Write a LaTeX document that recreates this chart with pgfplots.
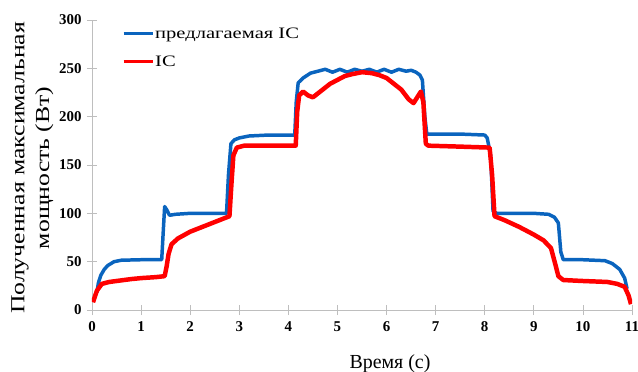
\documentclass[border=0pt]{standalone}
\usepackage{fontspec}
\setmainfont{Liberation Serif}
\newfontfamily\widefont[FakeStretch=1.29]{Liberation Serif}
\usepackage{pgfplots}
\pgfplotsset{compat=1.18}
\definecolor{pblue}{RGB}{10,100,190}
\definecolor{pred}{RGB}{255,0,0}
\definecolor{axgray}{RGB}{190,190,190}
\begin{document}
\begin{tikzpicture}
\begin{axis}[
  scale only axis, width=540bp, height=290bp,
  xmin=0, xmax=11, ymin=0, ymax=300,
  xtick={0,1,...,11}, ytick={0,50,...,300},
  axis x line*=bottom, axis y line*=left,
  axis line style={axgray, line width=0.8pt, -},
  tick style={axgray, line width=0.8pt},
  tick align=center, major tick length=10bp,
  /pgf/number format/assume math mode=true,
  xticklabel={\textbf{\pgfmathprintnumber{\tick}}},
  yticklabel={\textbf{\pgfmathprintnumber{\tick}}},
  ticklabel style={font=\fontsize{15}{15}\selectfont},
  xticklabel style={yshift=-3bp},
  yticklabel style={xshift=-2bp},
  xlabel={Время (с)},
  xlabel style={font=\fontsize{20}{20}\selectfont, yshift=-16bp, xshift=28bp},
  ylabel={Полученная максимальная\\мощность (Вт)},
  ylabel style={font=\widefont\fontsize{20}{25}\selectfont, align=center,
    at={(axis description cs:-0.071,0.49)}, anchor=south, inner sep=0pt},
  legend style={draw=none, fill=none, at={(0.05,0.985)}, anchor=north west,
    font=\widefont\fontsize{16}{16}\selectfont, row sep=14bp, nodes={inner sep=1bp}},
  legend cell align=left,
  legend image code/.code={\draw[line width=3pt,#1] (0bp,0bp) -- (29bp,0bp);},
]
\addplot[pblue, line width=3.5pt, line join=round] coordinates {
(0.10,18) (0.13,28) (0.18,36) (0.25,42) (0.32,46) (0.45,50) (0.6,51.5) (1.0,52) (1.42,52)
(1.45,80) (1.48,107) (1.53,103) (1.58,98) (1.7,99) (2.0,100) (2.74,100)
(2.78,140) (2.83,172) (2.9,176) (3.0,178) (3.2,180) (3.6,181) (4.13,181)
(4.16,215) (4.2,235) (4.3,240) (4.45,245) (4.6,247) (4.75,249) (4.9,246) (5.05,249) (5.2,246) (5.35,249)
(5.5,247) (5.65,249) (5.8,246) (5.95,249) (6.1,246) (6.25,249) (6.4,247) (6.5,248)
(6.6,246) (6.68,243) (6.73,238) (6.78,200) (6.82,182) (7.0,182) (7.5,182) (8.0,181)
(8.05,178) (8.12,160) (8.17,102) (8.25,100) (9.0,100) (9.3,99) (9.42,96) (9.5,90) (9.55,60) (9.6,52)
(10.0,52) (10.45,51) (10.6,48) (10.75,42) (10.85,33) (10.9,22)
};
\addlegendentry{предлагаемая IC}
\addplot[pred, line width=4.5pt, line join=round] coordinates {
(0.02,8) (0.06,14) (0.1,20) (0.2,27) (0.35,29) (0.5,30) (0.8,32) (1.0,33) (1.3,34) (1.48,35)
(1.52,45) (1.56,58) (1.62,68) (1.75,74) (2.0,81) (2.3,87) (2.5,91) (2.7,95) (2.8,97)
(2.84,130) (2.88,160) (2.95,168) (3.1,170) (4.15,170)
(4.18,205) (4.22,222) (4.3,226) (4.4,222) (4.5,220) (4.6,224) (4.7,228) (4.85,234) (5.0,238)
(5.15,242) (5.3,244) (5.5,246) (5.7,245) (5.85,243) (6.0,240) (6.15,234) (6.3,228) (6.45,218)
(6.55,214) (6.65,222) (6.7,226) (6.75,215) (6.8,172) (6.85,170) (7.5,169) (8.1,168)
(8.15,140) (8.2,97) (8.4,93) (8.7,86) (9.0,78) (9.2,72) (9.35,64) (9.45,45) (9.5,35) (9.6,31)
(10.0,30) (10.5,29) (10.7,27) (10.85,24) (10.93,15) (10.98,6)
};
\addlegendentry{IC}
\end{axis}
\pgfresetboundingbox
\path (-92bp,-62bp) rectangle (546bp,310bp);
\end{tikzpicture}
\end{document}
